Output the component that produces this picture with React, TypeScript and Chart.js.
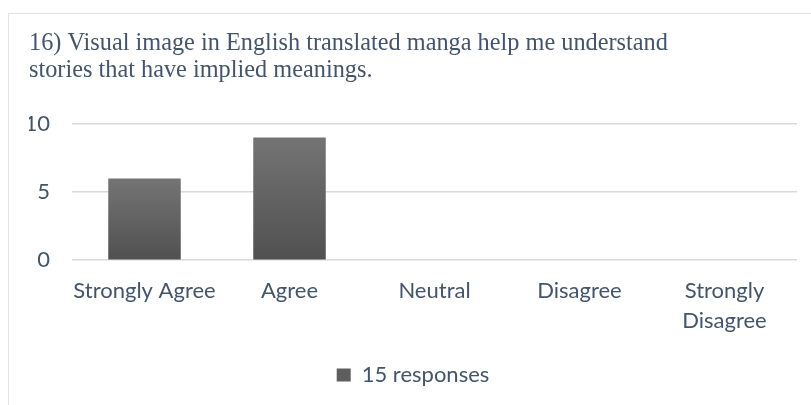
import React, { useEffect, useRef } from "react";
import { Chart, registerables } from "chart.js";

Chart.register(...registerables);

const titleLines = [
  "16) Visual image in English translated manga help me understand",
  "stories that have implied meanings.",
];
const categories: (string | string[])[] = [
  "Strongly Agree",
  "Agree",
  "Neutral",
  "Disagree",
  ["Strongly", "Disagree"],
];
const seriesLabel = "15 responses";
const responses = [6, 9, 0, 0, 0];
const yTicks = [0, 5, 10];

const TEXT = "#44546a";
const SANS = "Lato, 'Open Sans', sans-serif";

export default function App() {
  const ref = useRef<HTMLCanvasElement>(null);
  useEffect(() => {
    const canvas = ref.current!;
    const barFill = (ctx: any) => {
      const chart = ctx.chart;
      const area = chart.chartArea;
      if (!area || ctx.type !== "data") return "#5f5f5f";
      const y = chart.scales.y;
      const top = y.getPixelForValue(ctx.raw || 0.0001);
      const bottom = y.getPixelForValue(0);
      const g = chart.ctx.createLinearGradient(0, top, 0, bottom + 1);
      g.addColorStop(0, "#747474");
      g.addColorStop(1, "#505050");
      return g;
    };
    const chart = new Chart(canvas, {
      type: "bar",
      data: {
        labels: categories,
        datasets: [
          {
            label: seriesLabel,
            data: responses,
            backgroundColor: barFill,
            borderWidth: 0,
            barPercentage: 0.5,
            categoryPercentage: 1,
          },
        ],
      },
      options: {
        animation: false,
        responsive: false,
        layout: { padding: { left: 20, right: 36, top: 16, bottom: 18 } },
        plugins: {
          tooltip: { enabled: false },
          title: {
            display: true,
            text: titleLines,
            align: "start",
            color: TEXT,
            font: { family: "'Liberation Serif', 'Times New Roman', serif", size: 24.3, weight: "normal", lineHeight: 1.11 },
            padding: { top: 0, bottom: 40 },
          },
          legend: {
            position: "bottom",
            labels: {
              color: TEXT,
              font: { family: SANS, size: 22 },
              boxWidth: 14,
              boxHeight: 13,
              padding: 20,
              generateLabels: () => [
                {
                  text: seriesLabel,
                  fillStyle: "#5e5e5e",
                  strokeStyle: "#5e5e5e",
                  lineWidth: 0,
                  datasetIndex: 0,
                  hidden: false,
                  fontColor: TEXT,
                },
              ],
            },
          },
        },
        scales: {
          x: {
            grid: { display: false },
            border: { display: false },
            ticks: {
              color: TEXT,
              font: { family: SANS, size: 22, lineHeight: 1.36 },
              maxRotation: 0,
              autoSkip: false,
              padding: 8,
            },
          },
          y: {
            min: 0,
            max: 10,
            afterBuildTicks: (s: any) => {
              s.ticks = yTicks.map((v) => ({ value: v }));
            },
            afterFit: (s: any) => {
              s.width = 43;
            },
            grid: { color: "#d9d9d9", lineWidth: 1.5, drawTicks: false },
            border: { display: false },
            ticks: {
              color: TEXT,
              font: { family: SANS, size: 22 },
              padding: 22,
            },
          },
        },
      },
    });
    return () => chart.destroy();
  }, []);
  return (
    <div style={{ position: "fixed", inset: 0, overflow: "hidden", background: "#fff" }}>
      <div
        style={{
          position: "absolute",
          left: 8,
          top: 13,
          width: 824,
          height: 400,
          border: "1.5px solid #dfe2e6",
        }}
      >
        <canvas ref={ref} width={824} height={400} style={{ display: "block" }} />
      </div>
    </div>
  );
}
